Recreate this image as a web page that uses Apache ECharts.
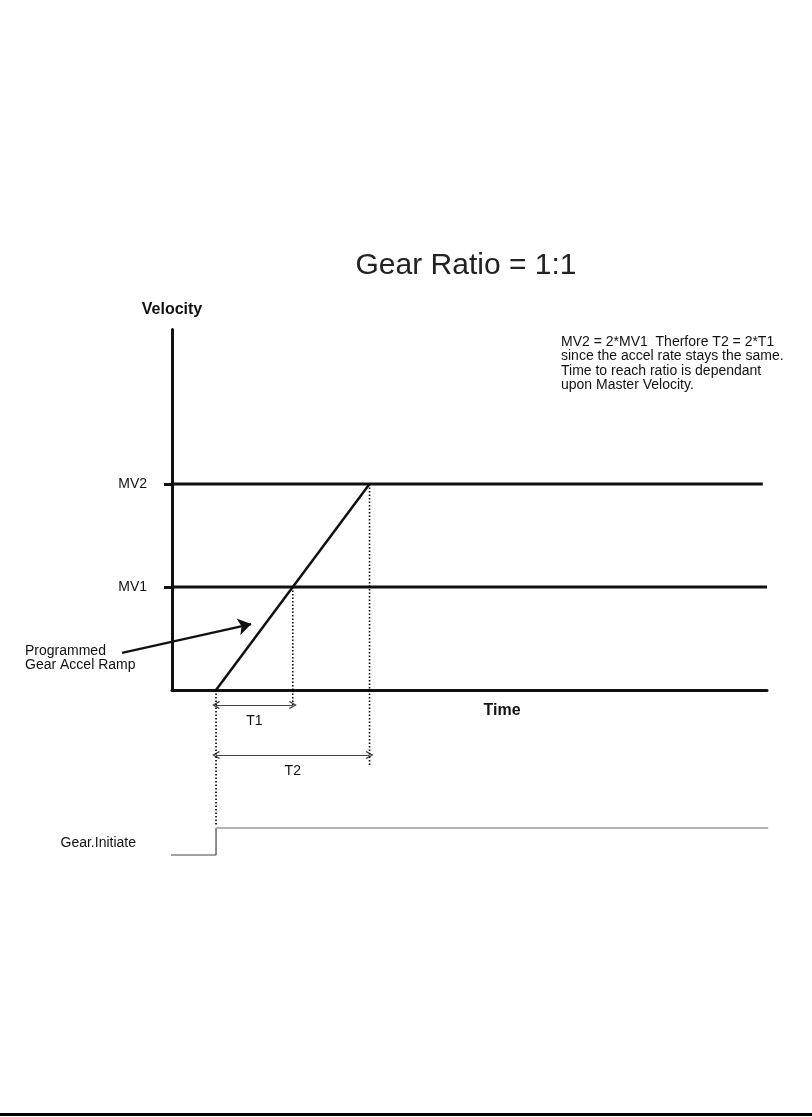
<!DOCTYPE html>
<html>
<head>
<meta charset="utf-8">
<script src="https://cdn.jsdelivr.net/npm/echarts@6/dist/echarts.min.js"></script>
<style>
  html, body { margin: 0; padding: 0; background: #fff; }
  #chart { width: 812px; height: 1117px; }
</style>
</head>
<body>
<div id="chart"></div>
<script>
// time axis runs 0..100, velocity axis 0..3.5 (MV1 = 1, MV2 = 2)
var timeMax = 100;
var velMax = 3.5;
var levelNames = ['MV1', 'MV2'];
var levelValues = [1, 2];
var levelEnds = [100, 99.3];

// ramp starts at t0 and reaches MV2 at t2 (crosses MV1 at t1)
var t0 = 7.4, t1 = 20.3, t2 = 33.2;
var rampTimes = [t0, t2];
var rampValues = [0, 2];

// lower timing panel, depth below the time axis
var dropTimes = [t0, t1, t2];
var dropFrom = [0, 1, 2];
var dropDepth = [136, 15, 75];
var spanLabels = ['T1', 'T2'];
var spanEnds = [t1, t2];
var spanDepth = [15, 65];
var gearTimes = [-1.2, t0, t0];
var gearDepth = [165, 165, 138];
var gearHighTimes = [t0, 100.2];
var gearHighDepth = [138, 138];

// "Programmed Gear Accel Ramp" pointer
var pointerFrom = [-8.4, 0.36];
var pointerTo = [13.3, 0.64];

var notes = [
  'MV2 = 2*MV1  Therfore T2 = 2*T1',
  'since the accel rate stays the same.',
  'Time to reach ratio is dependant',
  'upon Master Velocity.'
];

var ink = '#111';
var font = 'Liberation Sans, Arial, sans-serif';
var chevron = 'path://M30,0 L60,52 L52,60 L30,18 L8,60 L0,52 Z';

var series = [];

levelValues.forEach(function (v, i) {
  series.push({
    name: levelNames[i], type: 'line', xAxisIndex: 0, yAxisIndex: 0,
    data: [[0, v], [levelEnds[i], v]],
    symbol: 'none', silent: true,
    lineStyle: { color: ink, width: 3 }
  });
});

series.push({
  name: 'ramp', type: 'line', xAxisIndex: 0, yAxisIndex: 0,
  data: rampTimes.map(function (t, i) { return [t, rampValues[i]]; }),
  symbol: 'none', silent: true,
  lineStyle: { color: ink, width: 2.5 }
});

dropTimes.forEach(function (t, i) {
  if (dropFrom[i] > 0) {
    series.push({
      type: 'line', xAxisIndex: 0, yAxisIndex: 0,
      data: [[t, levelValues[dropFrom[i] - 1]], [t, 0]],
      symbol: 'none', silent: true,
      lineStyle: { color: '#000', width: 1.6, type: [1.5, 2] }
    });
  }
  series.push({
    type: 'line', xAxisIndex: 1, yAxisIndex: 1,
    data: [[t, 0], [t, dropDepth[i]]],
    symbol: 'none', silent: true,
    lineStyle: { color: '#000', width: 1.6, type: [1.5, 2] }
  });
});

series.push({
  type: 'lines', coordinateSystem: 'cartesian2d', xAxisIndex: 1, yAxisIndex: 1,
  clip: false, silent: true,
  symbol: [chevron, chevron], symbolSize: 8,
  lineStyle: { color: '#444', width: 1.2, opacity: 1 },
  label: {
    show: true, position: 'insideMiddleBottom', distance: 9,
    color: ink, fontSize: 14, fontFamily: font,
    formatter: function (p) { return p.name; }
  },
  data: spanLabels.map(function (s, i) {
    return { name: s, coords: [[t0, spanDepth[i]], [spanEnds[i], spanDepth[i]]] };
  })
});

series.push({
  name: 'Gear.Initiate', type: 'line', xAxisIndex: 1, yAxisIndex: 1,
  data: gearTimes.map(function (t, i) { return [t, gearDepth[i]]; }),
  symbol: 'none', silent: true, clip: false,
  lineStyle: { color: '#444', width: 1.2 }
});
series.push({
  type: 'line', xAxisIndex: 1, yAxisIndex: 1,
  data: gearHighTimes.map(function (t, i) { return [t, gearHighDepth[i]]; }),
  symbol: 'none', silent: true, clip: false,
  lineStyle: { color: '#999', width: 1.5 }
});

series.push({
  type: 'lines', coordinateSystem: 'cartesian2d', xAxisIndex: 0, yAxisIndex: 0,
  clip: false, silent: true,
  symbol: ['none', 'arrow'], symbolSize: 13,
  lineStyle: { color: ink, width: 2.2, opacity: 1 },
  data: [{ coords: [pointerFrom, pointerTo] }]
});

var texts = [
  { text: 'Gear Ratio = 1:1', x: 466, y: 266, align: 'center', size: 30, color: '#222' },
  { text: 'Time', x: 502, y: 711, align: 'center', size: 16, weight: 'bold' },
  { text: 'Programmed', x: 25, y: 651, align: 'left', size: 14 },
  { text: 'Gear Accel Ramp', x: 25, y: 665, align: 'left', size: 14 },
  { text: 'Gear.Initiate', x: 136, y: 843, align: 'right', size: 14 }
];
notes.forEach(function (n, i) {
  texts.push({ text: n, x: 561, y: 342 + i * 14.5, align: 'left', size: 14 });
});

var graphic = texts.map(function (t) {
  return {
    type: 'text', silent: true,
    style: {
      text: t.text, x: t.x, y: t.y, align: t.align, verticalAlign: 'middle',
      fill: t.color || ink,
      font: (t.weight || 'normal') + ' ' + t.size + 'px ' + font
    }
  };
});
graphic.push({
  type: 'rect', silent: true,
  shape: { x: 0, y: 1113, width: 812, height: 3 },
  style: { fill: '#000' }
});

var chart = echarts.init(document.getElementById('chart'), null, { renderer: 'canvas' });
chart.setOption({
  animation: false,
  backgroundColor: '#fff',
  grid: [
    { left: 172, top: 329.5, width: 595, height: 360.5, show: false },
    { left: 172, top: 690, width: 595, height: 180, show: false }
  ],
  xAxis: [
    {
      type: 'value', gridIndex: 0, min: 0, max: timeMax,
      axisLine: { show: true, onZero: false, lineStyle: { color: ink, width: 3 } },
      axisTick: { show: false }, axisLabel: { show: false }, splitLine: { show: false }
    },
    { type: 'value', gridIndex: 1, min: 0, max: timeMax, show: false }
  ],
  yAxis: [
    {
      type: 'value', gridIndex: 0, min: 0, max: velMax,
      name: 'Velocity', nameLocation: 'end', nameGap: 12,
      nameTextStyle: { color: ink, fontSize: 16, fontWeight: 'bold', fontFamily: font, align: 'center' },
      axisLine: { show: true, onZero: false, lineStyle: { color: ink, width: 3 } },
      axisTick: { show: true, customValues: levelValues, length: 8, lineStyle: { color: ink, width: 3 } },
      axisLabel: {
        show: true, customValues: levelValues, margin: 25,
        color: ink, fontSize: 14, fontFamily: font,
        formatter: function (v) { return levelNames[levelValues.indexOf(v)] || ''; }
      },
      splitLine: { show: false }
    },
    { type: 'value', gridIndex: 1, min: 0, max: 180, inverse: true, show: false }
  ],
  graphic: graphic,
  series: series
});
</script>
</body>
</html>
